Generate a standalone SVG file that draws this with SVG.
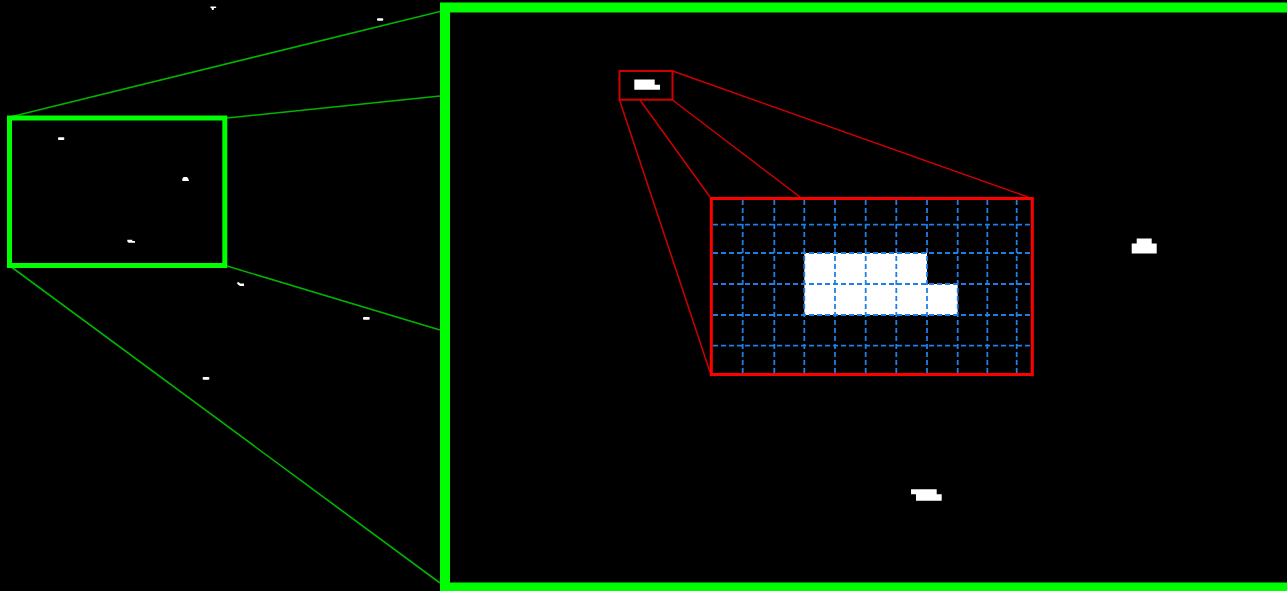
<svg xmlns="http://www.w3.org/2000/svg" width="1287" height="591" viewBox="0 0 1287 591">
<style>
.g{fill:none;stroke:#00ff00}
.gl{fill:none;stroke:#00b400;stroke-width:1.6}
.rl{fill:none;stroke:#d00000;stroke-width:1.5}
.grid{fill:none;stroke:#1f7fe8;stroke-width:1.8;stroke-dasharray:5 3}
.w{fill:#ffffff}
</style>
<rect width="1287" height="591" fill="#000"/>
<g id="connectors">
<line class="gl" x1="10" y1="117" x2="440" y2="11.5"/>
<line class="gl" x1="227" y1="118" x2="440" y2="96"/>
<line class="gl" x1="227" y1="266" x2="440" y2="330"/>
<line class="gl" x1="10" y1="266" x2="440" y2="583"/>
<line class="rl" x1="619.5" y1="100" x2="710" y2="372"/>
<line class="rl" x1="640" y1="100" x2="710" y2="197"/>
<line class="rl" x1="672.5" y1="100" x2="800" y2="197"/>
<line class="rl" x1="672.5" y1="71" x2="1028" y2="197"/>
</g>
<g id="overview-blobs">
<path class="w" d="M210.5 6.5h5l1 1.5h-2.5l-0.5 2h-1.5l-0.5-2h-1z"/>
<rect class="w" x="377" y="18.3" width="6.3" height="2.4" rx="1"/>
<rect class="w" x="58" y="137.3" width="6.3" height="2.7" rx="1"/>
<path class="w" d="M182.3 181v-2.3l1.3-1.7h3.4l1.3 1.7l0.7 2.3z"/>
<path class="w" d="M127.3 239.7h5v1.3h2.7v1.7h-6.3l-1.4-1.3z"/>
<path class="w" d="M237.3 282.3h1.7l1 1.3h4v2.4h-4l-2.7-2z"/>
<rect class="w" x="363" y="317" width="6.7" height="2.7" rx="1"/>
<rect class="w" x="202.7" y="377" width="6.6" height="2.7" rx="0.8"/>
</g>
<g id="overview-box">
<rect class="g" x="9.5" y="118" width="215.3" height="147.5" stroke-width="5"/>
</g>
<g id="zoom-panel">
<rect class="g" x="445" y="7.5" width="860" height="580" stroke-width="10"/>
</g>
<g id="panel-blobs">
<path class="w" d="M1136.7 238.5h15v5h5v10h-25v-10h5z"/>
<path class="w" d="M911 489.3h25.7v5h5v6.4h-25.7v-6.4h-5z"/>
</g>
<g id="inset-source">
<path class="w" d="M634.3 79.5h20.4v5.2h5.3v5.1h-25.7z"/>
<rect x="619.5" y="71" width="53" height="28.7" fill="none" stroke="#d00000" stroke-width="2"/>
</g>
<g id="inset-grid">
<rect x="804.3" y="253" width="122.7" height="31" class="w"/>
<rect x="804.3" y="284" width="153.4" height="31" class="w"/>
<g class="grid">
<line x1="742.7" y1="200" x2="742.7" y2="373"/>
<line x1="774.3" y1="200" x2="774.3" y2="373"/>
<line x1="804.3" y1="200" x2="804.3" y2="373"/>
<line x1="835" y1="200" x2="835" y2="373"/>
<line x1="865.7" y1="200" x2="865.7" y2="373"/>
<line x1="896.3" y1="200" x2="896.3" y2="373"/>
<line x1="927" y1="200" x2="927" y2="373"/>
<line x1="957.7" y1="200" x2="957.7" y2="373"/>
<line x1="987.3" y1="200" x2="987.3" y2="373"/>
<line x1="1016.7" y1="200" x2="1016.7" y2="373"/>
<line x1="713" y1="224.7" x2="1031" y2="224.7"/>
<line x1="713" y1="253" x2="1031" y2="253"/>
<line x1="713" y1="284" x2="1031" y2="284"/>
<line x1="713" y1="315" x2="1031" y2="315"/>
<line x1="713" y1="345.7" x2="1031" y2="345.7"/>
</g>
<rect x="711.3" y="198.5" width="321" height="176" fill="none" stroke="#ff0000" stroke-width="3"/>
</g>
</svg>
